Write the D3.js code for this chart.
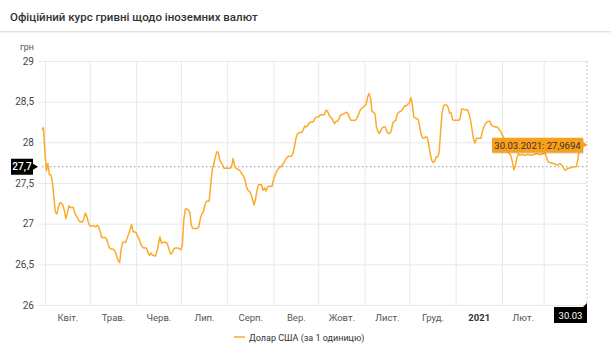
<!DOCTYPE html>
<html><head><meta charset="utf-8">
<script src="https://cdn.jsdelivr.net/npm/d3@7"></script>
<style>
html,body{margin:0;padding:0;background:#fff;}
svg{display:block;font-family:Roboto,"Noto Sans",sans-serif;}
</style></head>
<body>
<svg id="chart" width="611" height="350"></svg>
<script>
const titleText = "Офіційний курс гривні щодо іноземних валют";
const unitLabel = "грн";
const seriesName = "Долар США (за 1 одиницю)";
const startDate = "2020-03-30";
const endDate = "2021-03-30";
// daily official UAH/USD rate, from 30.03.2020 to 30.03.2021
const usdRates = [
28.15,28.18,27.87,27.65,27.74,27.60,27.60,27.50,27.32,27.14,
27.12,27.20,27.26,27.25,27.23,27.16,27.06,27.13,27.22,27.20,
27.20,27.20,27.13,27.09,27.07,27.03,27.02,27.02,27.06,27.13,
27.09,27.02,26.97,26.97,26.97,26.97,26.96,26.98,26.96,26.90,
26.83,26.83,26.83,26.82,26.77,26.71,26.69,26.69,26.68,26.66,
26.60,26.55,26.52,26.68,26.77,26.77,26.77,26.82,26.87,26.93,
26.99,26.90,26.90,26.89,26.85,26.81,26.76,26.72,26.70,26.70,
26.70,26.64,26.61,26.64,26.61,26.61,26.60,26.66,26.75,26.84,
26.76,26.77,26.77,26.77,26.75,26.69,26.63,26.63,26.68,26.70,
26.70,26.70,26.69,26.68,26.74,27.05,27.18,27.18,27.17,27.14,
26.98,26.94,26.94,26.94,26.94,26.96,27.06,27.12,27.14,27.22,
27.27,27.28,27.28,27.48,27.66,27.73,27.81,27.88,27.88,27.78,
27.75,27.72,27.68,27.68,27.68,27.68,27.68,27.70,27.80,27.71,
27.68,27.67,27.66,27.64,27.61,27.58,27.54,27.45,27.41,27.40,
27.36,27.30,27.23,27.30,27.41,27.48,27.48,27.48,27.41,27.44,
27.40,27.45,27.46,27.46,27.46,27.54,27.59,27.64,27.67,27.69,
27.70,27.72,27.75,27.78,27.81,27.83,27.83,27.83,27.86,27.94,
28.04,28.10,28.12,28.12,28.12,28.16,28.20,28.19,28.21,28.24,
28.25,28.25,28.26,28.30,28.31,28.31,28.33,28.34,28.34,28.34,
28.39,28.39,28.35,28.31,28.30,28.26,28.23,28.26,28.26,28.29,
28.34,28.34,28.35,28.36,28.37,28.35,28.30,28.27,28.27,28.27,
28.27,28.30,28.34,28.39,28.42,28.43,28.45,28.46,28.55,28.60,
28.55,28.38,28.37,28.35,28.19,28.13,28.11,28.15,28.18,28.19,
28.19,28.13,28.11,28.11,28.15,28.24,28.26,28.27,28.35,28.37,
28.38,28.39,28.42,28.45,28.45,28.47,28.48,28.55,28.47,28.31,
28.30,28.29,28.28,28.19,28.09,28.05,28.05,28.07,28.06,27.97,
27.86,27.78,27.75,27.77,27.82,27.82,27.88,28.15,28.37,28.45,
28.46,28.46,28.43,28.36,28.36,28.28,28.27,28.27,28.27,28.27,
28.29,28.41,28.41,28.40,28.40,28.40,28.35,28.27,28.16,28.04,
27.99,28.05,28.05,28.05,28.05,28.14,28.19,28.23,28.25,28.26,
28.26,28.21,28.20,28.19,28.19,28.19,28.16,28.14,28.10,28.07,
28.00,27.94,27.89,27.86,27.84,27.76,27.66,27.71,27.81,27.86,
27.84,27.85,27.85,27.84,27.84,27.85,27.85,27.84,27.84,27.85,
27.85,27.86,27.86,27.85,27.85,27.86,27.86,27.87,27.81,27.76,
27.75,27.75,27.74,27.74,27.73,27.72,27.73,27.74,27.72,27.70,
27.66,27.66,27.68,27.68,27.69,27.69,27.70,27.70,27.70,27.81,
27.93,27.96,27.96,27.97,27.97,27.9694
];
const yTicks = [26, 26.5, 27, 27.5, 28, 28.5, 29];
// March 2021 label is hidden under the cursor date box in the reference
const monthLabels = ["Квіт.","Трав.","Черв.","Лип.","Серп.","Вер.","Жовт.","Лист.","Груд.","2021","Лют."];
const cursorValue = 27.7;
const cursorDateLabel = "30.03";

const parse = d3.utcParse("%Y-%m-%d");
const t0 = parse(startDate), t1 = parse(endDate);
const data = usdRates.map((v,i)=>({date:d3.utcDay.offset(t0,i), value:v}));

const loc = d3.formatLocale({decimal:",", thousands:" ", grouping:[3], currency:["","₴"]});
const fmtTick = loc.format(".1~f");
const fmtVal = loc.format(".4f");
const fmtDate = d3.utcFormat("%d.%m.%Y");

const svg = d3.select("#chart");
const L = 42, R = 587, T = 61, B = 305;
const x = d3.scaleUtc().domain([t0,t1]).range([L,R]);
const y = d3.scaleLinear().domain([26,29]).range([B,T]);

// header
svg.append("text").attr("x",10).attr("y",21).attr("fill","#333")
  .attr("font-size",11.5).attr("font-weight",500).text(titleText);
svg.append("rect").attr("x",0).attr("y",31).attr("width",611).attr("height",1).attr("fill","#e3e3e3");
svg.append("rect").attr("x",0).attr("y",32).attr("width",611).attr("height",1).attr("fill","#f3f3f3");

svg.append("text").attr("x",20).attr("y",50).attr("fill","#555").attr("font-size",9).text(unitLabel);

// horizontal grid
const gy = svg.append("g").attr("transform",`translate(${R},0)`)
  .call(d3.axisLeft(y).tickValues(yTicks).tickSize(R-L+4).tickFormat(""));
gy.select(".domain").remove();
gy.selectAll("line").attr("stroke","#e8e8e8");

// vertical grid (month starts)
const monthStarts = d3.utcMonth.range(d3.utcMonth.ceil(t0), t1);
const gx = svg.append("g").attr("transform",`translate(0,${B})`)
  .call(d3.axisBottom(x).tickValues(monthStarts).tickSize(-(B-T)).tickFormat(""));
gx.select(".domain").remove();
gx.selectAll("line").attr("stroke","#e8e8e8");

// y labels
const yl = svg.append("g").attr("transform",`translate(${L-4},0)`)
  .call(d3.axisLeft(y).tickValues(yTicks).tickSize(0).tickPadding(4).tickFormat(fmtTick));
yl.select(".domain").remove();
yl.selectAll("text").attr("fill","#444").attr("font-size",10).attr("font-family","Roboto,sans-serif");

// x labels at month centres
const monthBounds = [...monthStarts, t1];
const labelDates = monthBounds.slice(0,-1).map((d,i)=>new Date((+d + +monthBounds[i+1])/2))
  .slice(0, monthLabels.length);
const xl = svg.append("g").attr("transform",`translate(0,${B})`)
  .call(d3.axisBottom(x).tickValues(labelDates).tickSize(0).tickPadding(9)
    .tickFormat((d,i)=>monthLabels[i]));
xl.select(".domain").remove();
xl.selectAll("text").attr("font-size",9.5).attr("font-family","Roboto,sans-serif")
  .attr("font-weight",(d,i)=>monthLabels[i]==="2021"?"bold":"normal")
  .attr("fill",(d,i)=>monthLabels[i]==="2021"?"#333":"#555");

// cursor lines
svg.append("line").attr("x1",L).attr("x2",R).attr("y1",y(cursorValue)).attr("y2",y(cursorValue))
  .attr("stroke","#999").attr("stroke-dasharray","1.5,2.5");
svg.append("line").attr("x1",R).attr("x2",R).attr("y1",T).attr("y2",B)
  .attr("stroke","#bbb").attr("stroke-dasharray","1.5,2.5");

// series line
const line = d3.line().x(d=>x(d.date)).y(d=>y(d.value)).curve(d3.curveLinear);
svg.append("path").datum(data).attr("d",line).attr("fill","none")
  .attr("stroke","#fbab2c").attr("stroke-width",1.5).attr("stroke-linejoin","round");

// value tooltip
const last = data[data.length-1];
const tx = x(last.date), ty = y(last.value);
const tt = svg.append("g");
tt.append("rect").attr("x",tx-95+1).attr("y",ty-7+1).attr("width",91).attr("height",15)
  .attr("fill","rgba(0,0,0,0.12)");
tt.append("path").attr("d",`M${tx-95},${ty-7}H${tx-4}V${ty-3}L${tx},${ty}L${tx-4},${ty+3}V${ty+8}H${tx-95}Z`)
  .attr("fill","#f9a01b");
tt.append("text").attr("x",tx-49.5).attr("y",ty+4).attr("text-anchor","middle")
  .attr("font-size",9.5).attr("fill","#333").text(`${fmtDate(last.date)}: ${fmtVal(last.value)}`);

// y cursor tooltip
const cy = y(cursorValue);
svg.append("path").attr("d",`M11,${cy-8}H33V${cy-3}L38,${cy}L33,${cy+3}V${cy+8}H11Z`).attr("fill","#000");
svg.append("text").attr("x",22).attr("y",cy+3.5).attr("text-anchor","middle")
  .attr("font-size",10).attr("font-weight",500).attr("fill","#fff").text(fmtTick(cursorValue));

// x cursor tooltip
svg.append("path").attr("d",`M554,307H583L587,303V323H554Z`).attr("fill","#000");
svg.append("text").attr("x",570.5).attr("y",318.5).attr("text-anchor","middle")
  .attr("font-size",9.5).attr("fill","#fff").text(cursorDateLabel);

// legend
svg.append("line").attr("x1",234).attr("x2",245).attr("y1",337).attr("y2",337)
  .attr("stroke","#fbab2c").attr("stroke-width",1.5);
svg.append("text").attr("x",249).attr("y",340.5).attr("font-size",9).attr("fill","#333").text(seriesName);
</script>
</body></html>
